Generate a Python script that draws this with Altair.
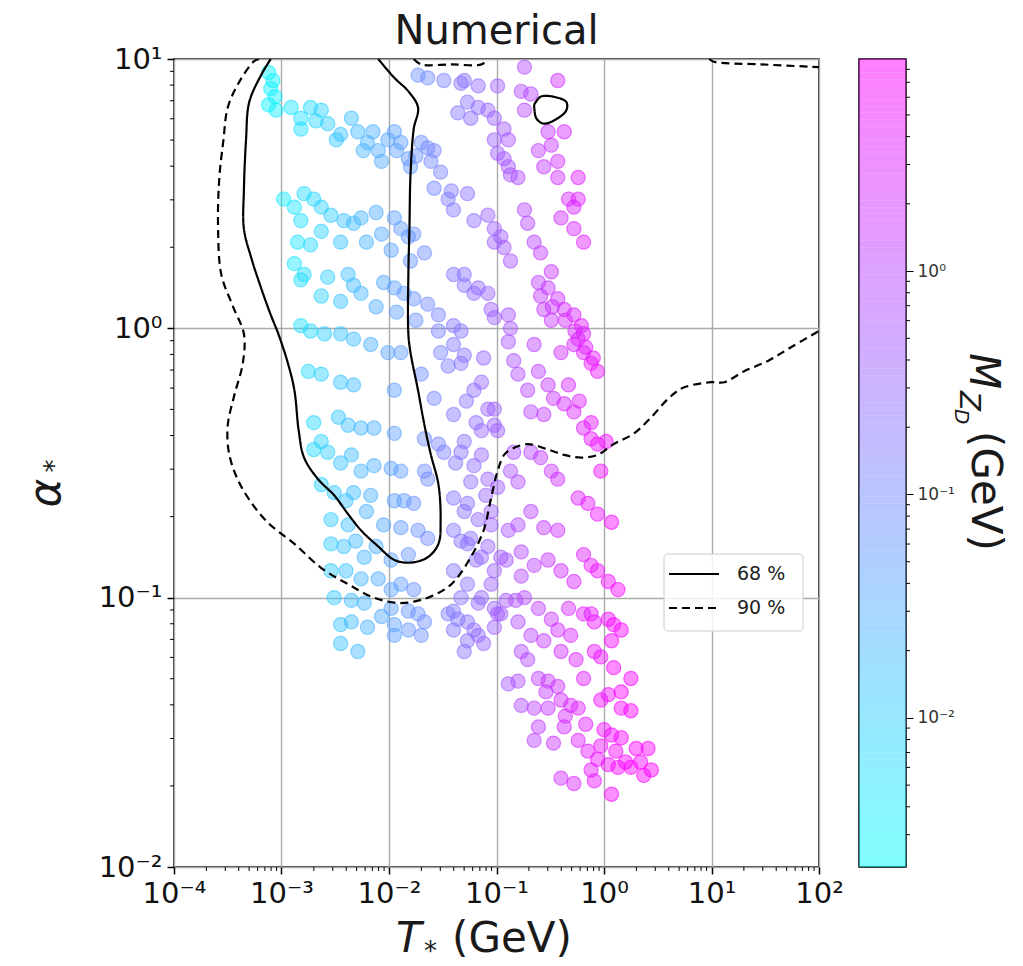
import altair as alt
import numpy as np
import pandas as pd

W, H = 645, 808      # plot area
CBW = 47             # colorbar width
CMIN, CMAX = 0.00215, 8.9
FONT = "DejaVu Sans"

# ---------------- scatter points: log10(T*), log10(alpha*), log10(M_ZD) ----------------
gA_T = [-3.12, -3.08, -3.10, -3.06, -3.12, -3.05]
gA_a = [0.95, 0.92, 0.89, 0.86, 0.83, 0.81]
gA_M = [-2.50, -2.47, -2.49, -2.45, -2.52, -2.44]

gB_T = [-2.91, -2.82, -2.73, -2.63, -2.57, -2.45, -2.35, -2.29, -2.20, -2.10, -2.01, -1.95, -1.89, -1.82, -1.80, -1.70, -1.64, -1.58,
        -2.82, -2.68, -2.49, -2.24, -2.15, -1.93, -1.75, -2.07]
gB_a = [0.82, 0.78, 0.82, 0.81, 0.76, 0.72, 0.78, 0.73, 0.69, 0.66, 0.70, 0.73, 0.69, 0.63, 0.60, 0.69, 0.67, 0.66,
        0.74, 0.77, 0.70, 0.66, 0.73, 0.66, 0.64, 0.62]
gB_M = [-2.30, -2.22, -2.14, -2.04, -1.97, -1.85, -1.76, -1.70, -1.60, -1.50, -1.42, -1.36, -1.30, -1.22, -1.20, -1.10, -1.04, -0.98,
        -2.22, -2.08, -1.89, -1.64, -1.55, -1.33, -1.15, -1.47]

gC_T = [-1.73, -1.64, -1.49, -1.33, -1.27, -1.17, -1.08, -1.02, -0.99, -0.93, -0.99, -0.93, -1.30, -1.17, -1.24, -1.36, -1.02, -0.89, -0.89, -0.80, -0.87, -1.61, -1.52]
gC_a = [0.94, 0.93, 0.92, 0.91, 0.84, 0.82, 0.81, 0.78, 0.90, 0.74, 0.65, 0.63, 0.92, 0.90, 0.78, 0.80, 0.70, 0.70, 0.60, 0.56, 0.57, 0.62, 0.58]
gC_M = [-1.12, -1.04, -0.90, -0.74, -0.68, -0.58, -0.48, -0.42, -0.38, -0.32, -0.38, -0.32, -0.70, -0.57, -0.64, -0.77, -0.42, -0.27, -0.27, -0.17, -0.25, -1.01, -0.92]

gD_T = [-0.74, -0.77, -0.68, -0.43, -0.74, -0.52, -0.37, -0.61, -0.49, -0.43, -0.56, -0.43, -0.24, -0.33, -0.28, -0.24, -0.40, -0.28, -0.19, -0.74, -0.71, -0.65, -0.59, -0.49]
gD_a = [0.97, 0.88, 0.87, 0.92, 0.81, 0.73, 0.73, 0.66, 0.68, 0.62, 0.60, 0.56, 0.56, 0.48, 0.45, 0.48, 0.41, 0.37, 0.32, 0.44, 0.39, 0.32, 0.28, 0.21]
gD_M = [-0.10, -0.13, -0.03, 0.26, -0.10, 0.15, 0.33, 0.05, 0.19, 0.26, 0.11, 0.26, 0.48, 0.37, 0.43, 0.48, 0.29, 0.43, 0.53, -0.10, -0.07, 0.00, 0.07, 0.19]

gE_T = [-2.98, -2.88, -2.79, -2.70, -2.63, -2.54, -2.42, -2.33, -2.26, -2.07, -1.95, -1.89, -1.82, -1.77, -1.67,
        -1.58, -1.45, -1.40, -1.27, -1.21, -1.08, -1.02, -0.96, -1.42, -0.93, -0.87, -1.02, -1.30, -1.17, -1.08,
        -2.82, -2.63, -2.45, -2.21, -1.98, -1.80, -2.12]
gE_a = [0.48, 0.45, 0.50, 0.48, 0.45, 0.42, 0.40, 0.39, 0.41, 0.35, 0.41, 0.37, 0.34, 0.35, 0.28,
        0.52, 0.48, 0.44, 0.50, 0.40, 0.42, 0.37, 0.34, 0.51, 0.30, 0.25, 0.32, 0.20, 0.15, 0.13,
        0.40, 0.36, 0.32, 0.32, 0.29, 0.25, 0.43]
gE_M = [-2.38, -2.28, -2.19, -2.10, -2.03, -1.94, -1.82, -1.73, -1.66, -1.47, -1.35, -1.29, -1.22, -1.17, -1.07,
        -0.98, -0.85, -0.80, -0.67, -0.61, -0.48, -0.42, -0.35, -0.82, -0.32, -0.25, -0.42, -0.70, -0.57, -0.48,
        -2.22, -2.03, -1.85, -1.61, -1.38, -1.20, -1.52]

gF_T = [-2.88, -2.79, -2.57, -2.38, -2.33, -2.26, -2.05, -1.95, -1.86, -1.77, -1.64, -1.54, -1.40, -1.30, -1.21, -1.05, -1.02, -1.40, -1.33, -2.85, -2.73, -2.82,
        -2.63, -2.45, -2.12, -1.93, -1.75]
gF_a = [0.24, 0.20, 0.19, 0.20, 0.16, 0.13, 0.17, 0.15, 0.13, 0.11, 0.09, 0.05, 0.20, 0.16, 0.13, 0.07, 0.04, 0.01, -0.01, 0.32, 0.31, 0.18,
        0.12, 0.10, 0.08, 0.06, 0.03]
gF_M = [-2.28, -2.19, -1.97, -1.78, -1.73, -1.66, -1.45, -1.35, -1.26, -1.17, -1.04, -0.94, -0.80, -0.70, -0.61, -0.45, -0.42, -0.80, -0.73, -2.25, -2.13, -2.22,
        -2.03, -1.85, -1.52, -1.33, -1.15]

gG_T = [-0.61, -0.52, -0.43, -0.37, -0.28, -0.21, -0.19, -0.56, -0.49, -0.89, -0.87, -0.28, -0.19, -0.12, -0.06, -0.24,
        -0.61, -0.52, -0.47, -0.37, -0.28, -0.19, -0.12, -0.06, -0.03, -0.89, -0.84, -0.80, -0.71, -0.65, -0.56, -0.68,
        -0.59, -0.48, -0.36, -0.27, -0.17, -0.10, -0.40, -0.33, -0.23, -0.12, 0.02]
gG_a = [0.17, 0.15, 0.11, 0.07, 0.05, 0.01, -0.02, 0.07, 0.03, 0.05, 0.00, -0.06, -0.09, -0.13, -0.16, -0.04,
        -0.16, -0.21, -0.26, -0.28, -0.31, -0.37, -0.41, -0.43, -0.53, -0.05, -0.12, -0.17, -0.23, -0.06, -0.32, -0.31,
        0.12, 0.08, 0.03, -0.01, -0.07, -0.11, -0.09, -0.21, -0.27, -0.35, -0.42]
gG_M = [0.05, 0.15, 0.26, 0.33, 0.43, 0.51, 0.53, 0.11, 0.19, -0.27, -0.25, 0.43, 0.53, 0.61, 0.68, 0.48,
        0.05, 0.15, 0.21, 0.33, 0.43, 0.53, 0.61, 0.68, 0.72, -0.27, -0.22, -0.17, -0.07, 0.00, 0.11, -0.03,
        0.07, 0.20, 0.34, 0.44, 0.55, 0.64, 0.29, 0.37, 0.49, 0.61, 0.77]

gH_T = [-2.82, -2.73, -2.60, -2.45, -2.33, -2.17, -2.01, -1.89, -2.75, -2.63, -2.45, -2.33, -1.95, -1.70, -1.58, -1.52, -1.45, -1.54]
gH_a = [0.01, -0.01, -0.02, -0.02, -0.04, -0.06, -0.09, -0.09, -0.16, -0.17, -0.20, -0.21, -0.23, -0.17, -0.26, -0.09, -0.14, -0.01]
gH_M = [-2.22, -2.13, -2.00, -1.85, -1.73, -1.57, -1.41, -1.29, -2.15, -2.03, -1.85, -1.73, -1.35, -1.10, -0.98, -0.92, -0.86, -0.94]

gI_T = [-2.70, -2.47, -2.38, -2.26, -2.14, -1.95, -1.67, -1.54, -2.70, -2.57,
        -2.35, -2.14, -1.98, -1.89, -1.67, -1.64, -1.49, -2.63, -2.51, -2.33,
        -2.17, -1.95, -1.86, -1.77, -2.54, -2.38, -2.05, -1.89, -1.73, -1.64,
        -2.54, -2.42, -2.23, -1.98, -1.82, -2.54, -2.26, -2.10, -1.89, -1.77,
        -2.51, -2.23, -1.98, -1.82, -1.73, -2.45, -2.20, -1.95, -2.35, -2.45,
        -2.29, -1.95, -1.82, -1.70, -1.67,
        -2.63, -2.45, -2.26, -2.40, -2.21, -2.31, -2.12, -2.40, -1.98, -2.35, -2.07]
gI_a = [-0.35, -0.33, -0.36, -0.37, -0.37, -0.39, -0.41, -0.43, -0.45, -0.46,
        -0.47, -0.51, -0.52, -0.53, -0.53, -0.56, -0.46, -0.58, -0.61, -0.61,
        -0.62, -0.64, -0.64, -0.65, -0.71, -0.73, -0.73, -0.74, -0.75, -0.78,
        -0.80, -0.81, -0.85, -0.86, -0.84, -0.90, -0.93, -0.93, -0.95, -0.97,
        -1.00, -1.02, -1.04, -1.05, -1.06, -1.10, -1.11, -1.10, -1.09, -1.17,
        -1.20, -1.14, -1.12, -1.14, -1.09,
        -0.42, -0.50, -0.53, -0.64, -0.68, -0.79, -0.81, -0.90, -0.97, -1.01, -1.07]
gI_M = [-2.10, -1.87, -1.78, -1.66, -1.54, -1.35, -1.07, -0.94, -2.10, -1.97,
        -1.75, -1.54, -1.38, -1.29, -1.07, -1.04, -0.89, -2.03, -1.91, -1.73,
        -1.57, -1.35, -1.26, -1.17, -1.94, -1.78, -1.45, -1.29, -1.13, -1.04,
        -1.94, -1.82, -1.63, -1.38, -1.22, -1.94, -1.66, -1.50, -1.29, -1.17,
        -1.91, -1.63, -1.38, -1.22, -1.13, -1.85, -1.60, -1.35, -1.75, -1.85,
        -1.69, -1.35, -1.22, -1.10, -1.07,
        -2.03, -1.85, -1.66, -1.80, -1.61, -1.71, -1.52, -1.80, -1.38, -1.75, -1.47]

gJ_T = [-1.40, -1.33, -1.21, -1.08, -1.14, -1.02, -1.33, -1.21, -1.08, -0.99, -1.40, -1.27, -1.17, -1.05, -1.40, -1.27,
        -1.14, -1.02, -1.40, -1.27, -1.14, -1.02, -1.40, -1.27, -1.30, -1.12, -1.14, -1.02, -0.99, -1.14, -1.30, -1.40,
        -1.28, -1.19, -1.38, -1.24, -1.10, -1.33, -1.19, -1.05, -0.91, -0.91, -0.77, -0.82]
gJ_a = [-0.06, -0.13, -0.23, -0.30, -0.38, -0.36, -0.46, -0.51, -0.56, -0.59, -0.63, -0.65, -0.71, -0.73, -0.75, -0.80,
        -0.85, -0.90, -0.90, -0.95, -1.00, -1.04, -1.05, -1.09, -0.10, -0.11, -0.20, -0.30, -0.38, -0.47, -0.42, -0.32,
        -0.27, -0.35, -0.50, -0.57, -0.62, -0.79, -0.86, -0.95, -1.01, -0.86, -0.92, -1.01]
gJ_M = [-0.80, -0.73, -0.61, -0.48, -0.54, -0.42, -0.73, -0.61, -0.48, -0.39, -0.80, -0.67, -0.57, -0.45, -0.80, -0.67,
        -0.54, -0.42, -0.80, -0.67, -0.54, -0.42, -0.80, -0.67, -0.70, -0.52, -0.54, -0.42, -0.39, -0.54, -0.70, -0.80,
        -0.68, -0.59, -0.78, -0.64, -0.50, -0.73, -0.59, -0.45, -0.30, -0.30, -0.14, -0.19]

gK_T = [-0.87, -0.80, -0.68, -0.59, -0.49, -0.43, -0.84, -0.24, -0.15, -0.06, 0.07, -1.30, -1.05, -0.89,
        -0.80, -0.68, -0.56, -0.43, -1.24, -1.08, -0.96, -0.77, -0.65, -0.52, -0.40, -0.28, -0.19, -0.12,
        -0.06, 0.04, 0.13, -1.33, -1.17, -0.99, -0.74, -0.61, -0.49, -0.33, -0.19, -0.09, 0.04, 0.09]
gK_a = [-0.53, -0.57, -0.46, -0.48, -0.53, -0.56, -0.46, -0.63, -0.65, -0.69, -0.72, -0.68, -0.68, -0.75,
        -0.73, -0.68, -0.74, -0.75, -0.78, -0.81, -0.85, -0.83, -0.88, -0.86, -0.90, -0.94, -0.84, -0.88,
        -0.90, -0.94, -0.97, -1.00, -1.02, -1.06, -1.00, -1.04, -1.08, -1.04, -1.06, -1.09, -1.08, -1.10]
gK_M = [-0.25, -0.17, -0.03, 0.07, 0.19, 0.26, -0.22, 0.48, 0.58, 0.68, 0.83, -0.70, -0.45, -0.27,
        -0.17, -0.03, 0.11, 0.26, -0.64, -0.48, -0.35, -0.14, 0.00, 0.15, 0.29, 0.43, 0.53, 0.61,
        0.68, 0.79, 0.85, -0.73, -0.57, -0.39, -0.10, 0.05, 0.19, 0.37, 0.53, 0.65, 0.79, 0.85]

gL_T = [-1.45, -1.40, -1.27, -1.17, -1.12, -1.02, -0.89]
gL_a = [-1.06, -1.12, -1.16, -1.14, -1.17, -1.11, -1.32]
gL_M = [-0.85, -0.80, -0.67, -0.57, -0.52, -0.42, -0.27]

gM_T = [-1.36, -1.21, -1.30, -0.96, -0.80, -0.68, -0.56, -0.43, -0.31, -0.12, 0.16, -0.77, -0.71, -0.61, -0.52, -0.43, -0.80,
        -0.77, -0.65, -0.52, -0.40, -0.31, -0.24, -0.19, -0.09, 0.09, 0.25, 0.04, 0.16, 0.25, -0.61, -0.65, -0.47, -0.37,
        -0.24, -0.15, -0.06, 0.04, 0.13, 0.25, 0.37, 0.41, 0.07, 0.16, 0.00, -0.40, -0.28, -0.09, 0.07, -0.12,
        -0.54, -0.36, -0.17, -0.03, 0.11, 0.20, 0.30, -0.03, 0.16, -0.26, -0.40, -0.03, 0.07, 0.34, 0.44]
gM_a = [-1.08, -1.12, -1.20, -1.06, -1.09, -1.14, -1.16, -1.12, -1.14, -1.06, -1.12, -1.20, -1.23, -1.30, -1.31, -1.33, -1.31,
        -1.40, -1.41, -1.41, -1.38, -1.40, -1.41, -1.30, -1.20, -1.26, -1.30, -1.36, -1.41, -1.42, -1.48, -1.53, -1.54, -1.48,
        -1.53, -1.57, -1.60, -1.62, -1.63, -1.63, -1.66, -1.56, -1.51, -1.52, -1.49, -1.67, -1.69, -1.68, -1.73, -1.64,
        -1.35, -1.44, -1.47, -1.55, -1.57, -1.61, -1.56, -1.38, -1.35, -1.23, -1.20, -1.22, -1.16, -1.61, -1.64]
gM_M = [-0.76, -0.61, -0.70, -0.35, -0.17, -0.03, 0.11, 0.26, 0.40, 0.61, 0.85, -0.14, -0.07, 0.05, 0.15, 0.26, -0.17,
        -0.14, 0.00, 0.15, 0.29, 0.40, 0.48, 0.53, 0.65, 0.85, 0.88, 0.79, 0.86, 0.88, 0.05, 0.00, 0.21, 0.33,
        0.48, 0.58, 0.68, 0.79, 0.85, 0.88, 0.89, 0.89, 0.82, 0.86, 0.75, 0.29, 0.43, 0.65, 0.82, 0.61,
        0.13, 0.34, 0.55, 0.72, 0.88, 0.89, 0.89, 0.72, 0.89, 0.45, 0.29, 0.72, 0.83, 0.89, 0.89]

log_T = gA_T + gB_T + gC_T + gD_T + gE_T + gF_T + gG_T + gH_T + gI_T + gJ_T + gK_T + gL_T + gM_T
log_alpha = gA_a + gB_a + gC_a + gD_a + gE_a + gF_a + gG_a + gH_a + gI_a + gJ_a + gK_a + gL_a + gM_a
log_M = gA_M + gB_M + gC_M + gD_M + gE_M + gF_M + gG_M + gH_M + gI_M + gJ_M + gK_M + gL_M + gM_M
assert len(log_T) == len(log_alpha) == len(log_M), (len(log_T), len(log_alpha), len(log_M))

points = pd.DataFrame({
    "T": np.power(10.0, log_T),
    "alpha": np.power(10.0, log_alpha),
    "M": np.power(10.0, log_M),
})

# ---------------- contours (log10 values) ----------------
c68_main_T = [-2.10, -1.95, -1.82, -1.73, -1.77, -1.80, -1.81, -1.82, -1.82, -1.80,
              -1.73, -1.67, -1.61, -1.54, -1.52, -1.54, -1.64, -1.80, -1.95, -2.10,
              -2.26, -2.38, -2.51, -2.66, -2.79, -2.84, -2.88, -2.94, -3.03, -3.10,
              -3.19, -3.28, -3.35, -3.35, -3.33, -3.30, -3.19, -3.10]
c68_main_a = [1.00, 0.93, 0.88, 0.82, 0.74, 0.57, 0.37, 0.20, -0.02, -0.09,
              -0.23, -0.36, -0.47, -0.58, -0.71, -0.80, -0.85, -0.87, -0.86, -0.81,
              -0.75, -0.69, -0.62, -0.56, -0.48, -0.38, -0.23, -0.13, -0.02, 0.05,
              0.15, 0.26, 0.37, 0.51, 0.70, 0.84, 0.94, 1.00]
c68_loop_T = [-0.65, -0.59, -0.47, -0.35, -0.35, -0.43, -0.56, -0.63, -0.65]
c68_loop_a = [0.83, 0.86, 0.86, 0.84, 0.81, 0.78, 0.76, 0.78, 0.83]

c90_main_T = [-3.21, -3.26, -3.40, -3.50, -3.54, -3.58, -3.59, -3.56, -3.45, -3.35,
              -3.36, -3.44, -3.50, -3.49, -3.42, -3.31, -3.13, -2.88, -2.63, -2.38,
              -2.14, -1.89, -1.64, -1.42, -1.24, -1.12, -1.05, -0.99, -0.93, -0.87,
              -0.71, -0.52, -0.37, -0.21, -0.06, 0.09, 0.28, 0.44, 0.60, 0.74,
              1.00, 1.12, 1.30, 1.53, 1.74, 2.00]
c90_main_a = [1.00, 0.99, 0.91, 0.82, 0.70, 0.55, 0.37, 0.20, 0.08, -0.02,
              -0.13, -0.25, -0.36, -0.46, -0.55, -0.63, -0.72, -0.80, -0.89, -0.95,
              -1.00, -1.02, -1.00, -0.95, -0.85, -0.75, -0.63, -0.53, -0.47, -0.45,
              -0.43, -0.45, -0.47, -0.48, -0.47, -0.43, -0.39, -0.33, -0.26, -0.22,
              -0.20, -0.20, -0.16, -0.12, -0.07, -0.01]
c90_top_T = [-1.77, -1.70, -1.42, -1.14, -1.08]
c90_top_a = [1.00, 0.98, 0.98, 0.98, 1.00]
c90_right_T = [0.98, 1.02, 1.46, 2.00]
c90_right_a = [1.00, 0.99, 0.98, 0.97]

rows = []
for name, level, ts, als in [
    ("68a", "68 %", c68_main_T, c68_main_a),
    ("68b", "68 %", c68_loop_T, c68_loop_a),
    ("90a", "90 %", c90_main_T, c90_main_a),
    ("90b", "90 %", c90_top_T, c90_top_a),
    ("90c", "90 %", c90_right_T, c90_right_a),
]:
    assert len(ts) == len(als), name
    for i, (t, a) in enumerate(zip(ts, als)):
        rows.append({"path": name, "level": level, "idx": i, "T": 10.0 ** t, "alpha": 10.0 ** a})
contours = pd.DataFrame(rows)

# ---------------- ticks ----------------
x_major = [1e-4, 1e-3, 1e-2, 1e-1, 1e0, 1e1, 1e2]
y_major = [1e-2, 1e-1, 1e0, 1e1]
cb_major = [1e-2, 1e-1, 1e0]
minor_x = [k * 10.0 ** e for e in range(-4, 2) for k in range(2, 10)]
minor_y = [k * 10.0 ** e for e in range(-2, 1) for k in range(2, 10)]
minor_cb = [k * 10.0 ** e for e in range(-3, 1) for k in range(2, 10) if CMIN < k * 10.0 ** e < CMAX]

x_lab = "'10' + ['\u207b\u2074','\u207b\u00b3','\u207b\u00b2','\u207b\u00b9','\u2070','\u00b9','\u00b2'][round(log(datum.value)/LN10) + 4]"
y_lab = "'10' + ['\u207b\u00b2','\u207b\u00b9','\u2070','\u00b9'][round(log(datum.value)/LN10) + 2]"
cb_lab = "'10' + ['\u207b\u00b3','\u207b\u00b2','\u207b\u00b9','\u2070'][round(log(datum.value)/LN10) + 3]"

xs = alt.Scale(type="log", domain=[1e-4, 1e2], nice=False)
ys = alt.Scale(type="log", domain=[1e-2, 1e1], nice=False)
cs = alt.Scale(type="log", domain=[CMIN, CMAX], range=["#00ffff", "#ff00ff"], interpolate="rgb")

common_axis = dict(title=None, grid=True, gridColor="#aaaaaa", gridWidth=1.4, domain=False,
                   tickSize=7, tickWidth=1.5, tickColor="black", labelFont=FONT, labelFontSize=29,
                   labelColor="#111111", labelOverlap=False)
x_axis = alt.Axis(values=x_major, labelExpr=x_lab, labelPadding=5, labelFlush=False, **common_axis)
y_axis = alt.Axis(values=y_major, labelExpr=y_lab, labelPadding=5, **common_axis)

one = pd.DataFrame({"a": [0]})

scatter = alt.Chart(points).mark_circle(
    size=200, opacity=1, fillOpacity=0.46, strokeOpacity=0.6, strokeWidth=1.2
).encode(
    x=alt.X("T:Q", scale=xs, axis=x_axis),
    y=alt.Y("alpha:Q", scale=ys, axis=y_axis),
    fill=alt.Fill("M:Q", scale=cs, legend=None),
    stroke=alt.Stroke("M:Q", scale=cs, legend=None),
)

lines = alt.Chart(contours).mark_line(
    color="black", strokeWidth=2.2, interpolate="catmull-rom", clip=True
).encode(
    x=alt.X("T:Q", scale=xs, axis=x_axis),
    y=alt.Y("alpha:Q", scale=ys, axis=y_axis),
    detail="path:N",
    order="idx:Q",
    strokeDash=alt.StrokeDash("level:N", scale=alt.Scale(domain=["68 %", "90 %"], range=[[1, 0], [8, 5]]), legend=None),
)

minx = alt.Chart(pd.DataFrame({"v": minor_x})).mark_rule(color="black", strokeWidth=1).encode(
    x=alt.X("v:Q", scale=xs, axis=x_axis), y=alt.value(H), y2=alt.value(H + 4))
miny = alt.Chart(pd.DataFrame({"v": minor_y})).mark_rule(color="black", strokeWidth=1).encode(
    y=alt.Y("v:Q", scale=ys, axis=y_axis), x=alt.value(-4), x2=alt.value(0))

# legend (drawn by hand, inside the plot)
leg_box = alt.Chart(one).mark_rect(fill="white", fillOpacity=0.85, stroke="#cccccc", strokeWidth=1, cornerRadius=4).encode(
    x=alt.value(490), x2=alt.value(629), y=alt.value(495), y2=alt.value(572))
leg_l1 = alt.Chart(one).mark_rule(color="black", strokeWidth=2.2).encode(
    x=alt.value(495), x2=alt.value(545), y=alt.value(515))
leg_l2 = alt.Chart(one).mark_rule(color="black", strokeWidth=2.2, strokeDash=[8, 5]).encode(
    x=alt.value(495), x2=alt.value(545), y=alt.value(549))
leg_t1 = alt.Chart(one).mark_text(text="68 %", font=FONT, fontSize=19, align="left", baseline="middle", color="#222222").encode(
    x=alt.value(563), y=alt.value(515))
leg_t2 = alt.Chart(one).mark_text(text="90 %", font=FONT, fontSize=19, align="left", baseline="middle", color="#222222").encode(
    x=alt.value(563), y=alt.value(549))

# titles
title_t = alt.Chart(one).mark_text(text="Numerical", font=FONT, fontSize=40, align="center", baseline="middle", color="#1a1a1a").encode(
    x=alt.value(W / 2), y=alt.value(-27))
xt1 = alt.Chart(one).mark_text(text="T", font=FONT, fontSize=42, fontStyle="italic", align="left", baseline="alphabetic", color="#1a1a1a").encode(
    x=alt.value(222), y=alt.value(893))
xt2 = alt.Chart(one).mark_text(text="*", font=FONT, fontSize=26, align="left", baseline="alphabetic", color="#1a1a1a").encode(
    x=alt.value(250), y=alt.value(901))
xt3 = alt.Chart(one).mark_text(text="(GeV)", font=FONT, fontSize=42, align="left", baseline="alphabetic", color="#1a1a1a").encode(
    x=alt.value(278), y=alt.value(893))
yt1 = alt.Chart(one).mark_text(text="\u03b1", font=FONT, fontSize=44, fontStyle="italic", angle=270, align="center", baseline="middle", color="#1a1a1a").encode(
    x=alt.value(-127), y=alt.value(434))
yt2 = alt.Chart(one).mark_text(text="*", font=FONT, fontSize=26, angle=270, align="center", baseline="middle", color="#1a1a1a").encode(
    x=alt.value(-119), y=alt.value(407))

anchor = alt.Chart(one).mark_rule(color="white", strokeWidth=2).encode(
    x=alt.value(-172), x2=alt.value(-172), y=alt.value(-57), y2=alt.value(-56))

main = alt.layer(
    scatter, lines, minx, miny, leg_box, leg_l1, leg_l2, leg_t1, leg_t2,
    title_t, xt1, xt2, xt3, yt1, yt2, anchor
).properties(width=W, height=H)

# ---------------- colorbar ----------------
edges = np.logspace(np.log10(CMIN), np.log10(CMAX), 121)
cbdf = pd.DataFrame({"lo": edges[:-1], "hi": edges[1:], "mid": np.sqrt(edges[:-1] * edges[1:])})
cb_y = alt.Scale(type="log", domain=[CMIN, CMAX], nice=False)
cb_axis = alt.Axis(orient="right", values=cb_major, labelExpr=cb_lab, title=None, grid=False, domain=False,
                   tickSize=7, tickWidth=1, tickColor="black", labelFont=FONT, labelFontSize=17,
                   labelColor="#333333", labelPadding=4)

cb_rects = alt.Chart(cbdf).mark_rect(fillOpacity=0.5, strokeWidth=0).encode(
    y=alt.Y("lo:Q", scale=cb_y, axis=cb_axis), y2="hi:Q",
    x=alt.value(0), x2=alt.value(CBW),
    fill=alt.Fill("mid:Q", scale=cs, legend=None),
)
cb_minor = alt.Chart(pd.DataFrame({"v": minor_cb})).mark_rule(color="black", strokeWidth=1).encode(
    y=alt.Y("v:Q", scale=cb_y, axis=cb_axis), x=alt.value(CBW), x2=alt.value(CBW + 4))

ct1 = alt.Chart(one).mark_text(text="M", font=FONT, fontSize=42, fontStyle="italic", angle=90, align="left", baseline="middle", color="#1a1a1a").encode(
    x=alt.value(124), y=alt.value(294))
ct2 = alt.Chart(one).mark_text(text="Z", font=FONT, fontSize=29, fontStyle="italic", angle=90, align="left", baseline="middle", color="#1a1a1a").encode(
    x=alt.value(110), y=alt.value(332))
ct3 = alt.Chart(one).mark_text(text="D", font=FONT, fontSize=20, fontStyle="italic", angle=90, align="left", baseline="middle", color="#1a1a1a").encode(
    x=alt.value(102), y=alt.value(350))
ct4 = alt.Chart(one).mark_text(text="(GeV)", font=FONT, fontSize=42, angle=90, align="left", baseline="middle", color="#1a1a1a").encode(
    x=alt.value(126), y=alt.value(372))

cbar = alt.layer(cb_rects, cb_minor, ct1, ct2, ct3, ct4).properties(width=CBW, height=H)

chart = alt.hconcat(main, cbar, spacing=40, bounds="flush").properties(
    padding={"left": 0, "top": 0, "right": 8, "bottom": 0}, background="white"
).configure_view(stroke="black", strokeWidth=1.5)

chart.save("out.html", embed_options={"renderer": "svg", "actions": False})
